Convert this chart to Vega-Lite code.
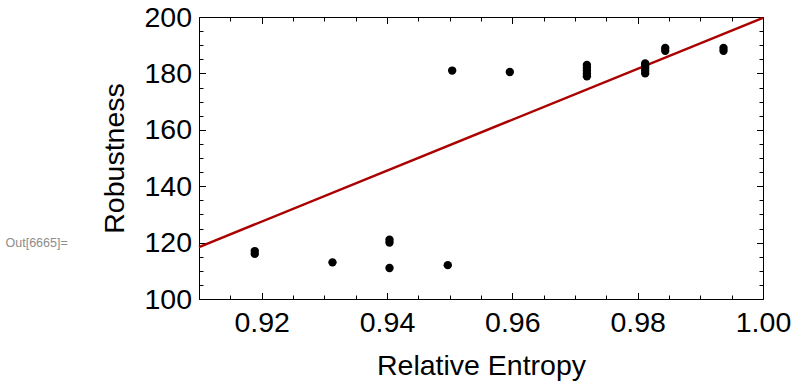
{
  "$schema": "https://vega.github.io/schema/vega-lite/v6.json",
  "width": 564,
  "height": 282,
  "autosize": {"type": "none"},
  "padding": {"left": 199, "top": 17, "right": 31, "bottom": 86},
  "background": "white",
  "config": {
    "view": {"stroke": null},
    "axis": {
      "grid": false,
      "labelFont": "Liberation Sans",
      "titleFont": "Liberation Sans",
      "labelFontSize": 28.5,
      "titleFontSize": 28.5,
      "titleFontWeight": "normal",
      "labelColor": "black",
      "titleColor": "black",
      "tickColor": "black",
      "domainColor": "black",
      "tickWidth": 1,
      "domainWidth": 1,
      "labelFlush": false,
      "labelOverlap": false
    }
  },
  "title": {
    "text": "Out[6665]=",
    "orient": "left",
    "angle": 0,
    "align": "right",
    "baseline": "middle",
    "anchor": "middle",
    "dy": 85,
    "offset": -29,
    "font": "Liberation Sans",
    "fontSize": 12.5,
    "fontWeight": "normal",
    "color": "#8c8c8c"
  },
  "datasets": {
    "pts": [
      {"entropy": 0.9189, "robustness": 117},
      {"entropy": 0.9189, "robustness": 116},
      {"entropy": 0.9313, "robustness": 113},
      {"entropy": 0.9404, "robustness": 111},
      {"entropy": 0.9404, "robustness": 121},
      {"entropy": 0.9404, "robustness": 120},
      {"entropy": 0.9497, "robustness": 112},
      {"entropy": 0.9504, "robustness": 181},
      {"entropy": 0.9596, "robustness": 180.5},
      {"entropy": 0.9719, "robustness": 179},
      {"entropy": 0.9719, "robustness": 180},
      {"entropy": 0.9719, "robustness": 181},
      {"entropy": 0.9719, "robustness": 182},
      {"entropy": 0.9719, "robustness": 183},
      {"entropy": 0.9812, "robustness": 180},
      {"entropy": 0.9812, "robustness": 181},
      {"entropy": 0.9812, "robustness": 182},
      {"entropy": 0.9812, "robustness": 183},
      {"entropy": 0.9812, "robustness": 183.5},
      {"entropy": 0.9844, "robustness": 188},
      {"entropy": 0.9844, "robustness": 189},
      {"entropy": 0.9937, "robustness": 188},
      {"entropy": 0.9937, "robustness": 189}
    ],
    "fit": [
      {"entropy": 0.91, "robustness": 118.4},
      {"entropy": 1.0, "robustness": 199.7}
    ]
  },
  "layer": [
    {
      "data": {"name": "fit"},
      "mark": {"type": "line", "opacity": 0},
      "encoding": {
        "x": {"field": "entropy", "type": "quantitative",
              "scale": {"domain": [0.91, 1.0], "nice": false, "zero": false},
              "axis": {"orient": "bottom", "values": [0.91, 0.915, 0.925, 0.93, 0.935, 0.945, 0.95, 0.955, 0.965, 0.97, 0.975, 0.985, 0.99, 0.995], "tickSize": -4, "labels": false, "domain": false, "title": null}},
        "y": {"field": "robustness", "type": "quantitative",
              "scale": {"domain": [100, 200], "nice": false, "zero": false},
              "axis": {"orient": "left", "values": [105, 110, 115, 125, 130, 135, 145, 150, 155, 165, 170, 175, 185, 190, 195], "tickSize": -4, "labels": false, "domain": false, "title": null}}
      }
    },
    {
      "data": {"name": "fit"},
      "mark": {"type": "line", "opacity": 0},
      "encoding": {
        "x": {"field": "entropy", "type": "quantitative",
              "scale": {"domain": [0.91, 1.0], "nice": false, "zero": false},
              "axis": {"orient": "top", "values": [0.91, 0.915, 0.925, 0.93, 0.935, 0.945, 0.95, 0.955, 0.965, 0.97, 0.975, 0.985, 0.99, 0.995], "tickSize": -4, "labels": false, "domain": false, "title": null}},
        "y": {"field": "robustness", "type": "quantitative",
              "scale": {"domain": [100, 200], "nice": false, "zero": false},
              "axis": {"orient": "right", "values": [105, 110, 115, 125, 130, 135, 145, 150, 155, 165, 170, 175, 185, 190, 195], "tickSize": -4, "labels": false, "domain": false, "title": null}}
      }
    },
    {
      "data": {"name": "fit"},
      "mark": {"type": "line", "color": "#aa0000", "strokeWidth": 2.5},
      "encoding": {
        "x": {"field": "entropy", "type": "quantitative",
              "scale": {"domain": [0.91, 1.0], "nice": false, "zero": false},
              "axis": {"orient": "top", "values": [0.92, 0.94, 0.96, 0.98, 1.0], "tickSize": -6.5, "labels": false, "domain": true, "title": null}},
        "y": {"field": "robustness", "type": "quantitative",
              "scale": {"domain": [100, 200], "nice": false, "zero": false},
              "axis": {"orient": "right", "values": [100, 120, 140, 160, 180, 200], "tickSize": -6.5, "labels": false, "domain": true, "title": null}}
      }
    },
    {
      "data": {"name": "pts"},
      "mark": {"type": "circle", "color": "black", "opacity": 1, "size": 70},
      "encoding": {
        "x": {"field": "entropy", "type": "quantitative",
              "scale": {"domain": [0.91, 1.0], "nice": false, "zero": false},
              "axis": {"orient": "bottom", "values": [0.92, 0.94, 0.96, 0.98, 1.0], "format": ".2f", "tickSize": -6.5, "labelPadding": 16, "domain": true, "title": "Relative Entropy", "titlePadding": 14.5}},
        "y": {"field": "robustness", "type": "quantitative",
              "scale": {"domain": [100, 200], "nice": false, "zero": false},
              "axis": {"orient": "left", "values": [100, 120, 140, 160, 180, 200], "format": "d", "tickSize": -6.5, "labelPadding": 14, "domain": true, "title": "Robustness", "titlePadding": 14}}
      }
    }
  ],
  "resolve": {"axis": {"x": "independent", "y": "independent"}}
}
